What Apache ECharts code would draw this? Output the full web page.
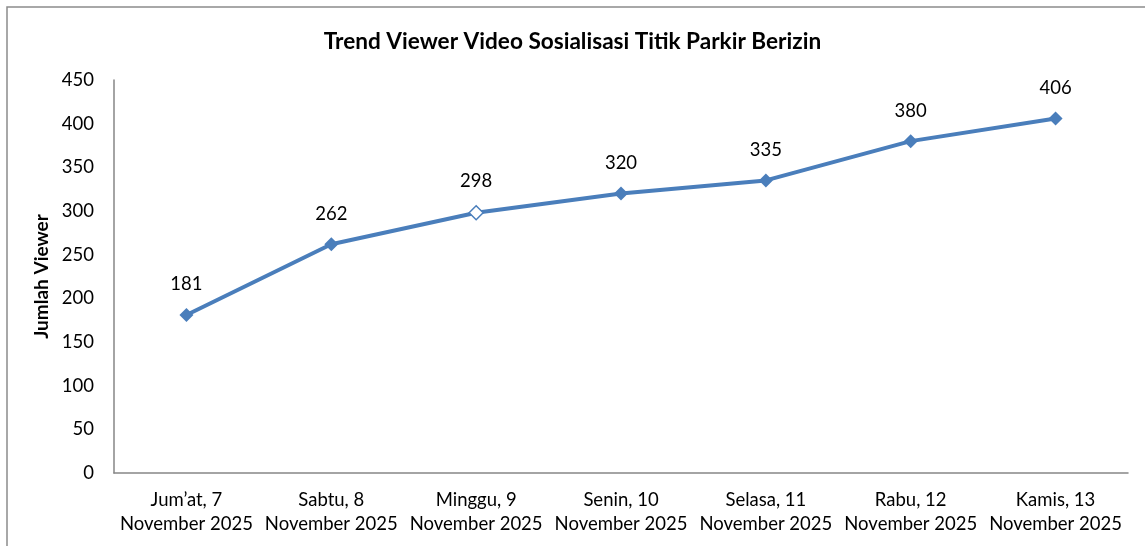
<!DOCTYPE html>
<html><head><meta charset="utf-8">
<script src="https://cdn.jsdelivr.net/npm/echarts@6/dist/echarts.min.js"></script>
<style>html,body{margin:0;padding:0;background:#fff}#c{width:1145px;height:546px}</style>
</head><body><div id="c"></div>
<script>
const categories = ["Jum\u2019at, 7\nNovember 2025","Sabtu, 8\nNovember 2025","Minggu, 9\nNovember 2025","Senin, 10\nNovember 2025","Selasa, 11\nNovember 2025","Rabu, 12\nNovember 2025","Kamis, 13\nNovember 2025"];
const viewers = [181, 262, 298, 320, 335, 380, 406];
const hollowIndex = [2];
const yTicks = {min: 0, max: 450, interval: 50};
const titleText = "Trend Viewer Video Sosialisasi Titik Parkir Berizin";
const yName = "Jumlah Viewer";

const FONT = "Lato";
const chart = echarts.init(document.getElementById('c'), null, {renderer:'canvas'});
chart.setOption({
  animation:false,
  backgroundColor:'#fff',
  graphic:[{type:'rect',shape:{x:7,y:7,width:1160,height:560},style:{fill:'none',stroke:'#8c8c8c',lineWidth:1.5},silent:true}],
  title:{text:titleText,left:'center',top:25,textStyle:{fontFamily:FONT,fontSize:22.6,fontWeight:'bold',color:'#000'}},
  grid:{left:114,right:17,top:80,bottom:73},
  xAxis:{type:'category',data:categories,boundaryGap:true,
    axisLine:{lineStyle:{color:'#868686',width:1.5}},axisTick:{show:false},
    axisLabel:{fontFamily:FONT,fontSize:18.5,color:'#000',margin:15,lineHeight:24,interval:0}},
  yAxis:{type:'value',min:yTicks.min,max:yTicks.max,interval:yTicks.interval,
    name:yName,nameLocation:'middle',nameGap:60,nameRotate:90,
    nameTextStyle:{fontFamily:FONT,fontSize:19,fontWeight:'bold',color:'#000'},
    axisLine:{show:true,lineStyle:{color:'#868686',width:1.5}},axisTick:{show:false},splitLine:{show:false},
    axisLabel:{fontFamily:FONT,fontSize:18.5,color:'#000',margin:20}},
  series:[{type:'line',data:viewers.map((v,i)=>hollowIndex.includes(i)?{value:v,itemStyle:{color:'#fff',borderColor:'#4a7ebb',borderWidth:1.5}}:v),
    symbol:'diamond',symbolSize:14,
    lineStyle:{color:'#4a7ebb',width:4},
    itemStyle:{color:'#4a7ebb'},
    label:{show:true,position:'top',distance:14,fontFamily:FONT,fontSize:18.5,color:'#000'}}]
});
</script></body></html>
